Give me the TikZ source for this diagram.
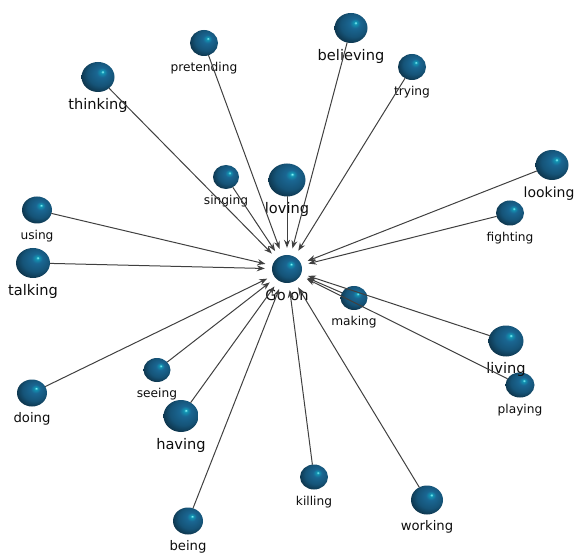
\documentclass[tikz,border=0pt]{standalone}
\usepackage{fontspec}
\setmainfont{DejaVu Sans}
\usepackage{tikz}
\usetikzlibrary{arrows.meta,positioning,shapes.geometric}
\definecolor{sphc}{RGB}{26,102,146}
\pgfdeclareradialshading{sphere}{\pgfpoint{7bp}{9bp}}{%
  color(0bp)=(white!55!cyan); color(2.5bp)=(cyan!30!sphc); color(8bp)=(sphc);
  color(20bp)=(sphc!82!black); color(30bp)=(sphc!50!black); color(50bp)=(black)}
\tikzset{
  every picture/.style={line join=round, line cap=round, >=Stealth},
  sph/.style={ellipse, shading=sphere, inner sep=0pt, draw=none},
  small/.style={sph, minimum width=28pt, minimum height=25pt},
  big/.style={sph, minimum width=33pt, minimum height=30pt},
  lblS/.style={inner sep=0pt, text=black!95, font=\fontsize{12.2}{13}\selectfont},
  lblM/.style={inner sep=0pt, text=black!95, font=\fontsize{13.2}{14}\selectfont},
  lblL/.style={inner sep=0pt, text=black!95, font=\fontsize{14.6}{15}\selectfont},
  edge/.style={-{Stealth[length=8pt,width=6pt]}, draw=black!75, line width=1pt, shorten >=7pt},
}

\begin{document}
\begin{tikzpicture}[x=1pt,y=-1pt]
\useasboundingbox (0,0) rectangle (576,556);
% hub
\node[sph, minimum width=30pt, minimum height=28pt] (goon) at (287,269) {};
\node[lblL, below=6pt of goon] (goon-l) {Go on};
% spheres
\node[sph, minimum width=37pt, minimum height=33pt] (loving) at (287,180) {};
\node[big] (believing) at (351,28) {};
\node[big] (thinking) at (98,77) {};
\node[small, minimum height=26pt] (pretending) at (204,43) {};
\node[small, minimum height=26pt] (trying) at (412,67) {};
\node[small, minimum width=26pt, minimum height=24pt] (singing) at (226,177) {};
\node[big] (looking) at (552,165) {};
\node[small] (fighting) at (510,213) {};
\node[small, minimum width=30pt, minimum height=27pt] (using) at (37,210) {};
\node[sph, minimum width=34pt, minimum height=30pt] (talking) at (33,263) {};
\node[small, minimum width=27pt, minimum height=24pt] (making) at (354,298) {};
\node[sph, minimum width=35pt, minimum height=31pt] (living) at (506,341) {};
\node[small, minimum width=29pt] (playing) at (520,385) {};
\node[small, minimum width=30pt, minimum height=27pt] (doing) at (32,393) {};
\node[small, minimum width=27pt, minimum height=24pt] (seeing) at (157,370) {};
\node[sph, minimum width=35pt, minimum height=32pt] (having) at (181,416) {};
\node[small] (killing) at (314,477) {};
\node[big, minimum width=32pt, minimum height=29pt] (working) at (427,500) {};
\node[small, minimum width=30pt, minimum height=27pt] (being) at (188,521) {};
% labels
\node[lblL, below=6pt of loving] (loving-l) {loving};
\node[lblL, below=6pt of believing] (believing-l) {believing};
\node[lblL, below=6pt of thinking] (thinking-l) {thinking};
\node[lblS, below=6pt of pretending] (pretending-l) {pretending};
\node[lblS, below=6pt of trying] (trying-l) {trying};
\node[lblS, below=6pt of singing] (singing-l) {singing};
\node[lblL, below=6pt of looking, xshift=-3pt, font=\fontsize{14}{15}\selectfont] (looking-l) {looking};
\node[lblS, below=6pt of fighting] (fighting-l) {fighting};
\node[lblS, below=6pt of using] (using-l) {using};
\node[lblL, below=6pt of talking] (talking-l) {talking};
\node[lblS, below=6pt of making] (making-l) {making};
\node[lblL, below=6pt of living] (living-l) {living};
\node[lblS, below=6pt of playing] (playing-l) {playing};
\node[lblM, below=6pt of doing] (doing-l) {doing};
\node[lblS, below=6pt of seeing] (seeing-l) {seeing};
\node[lblL, below=6pt of having] (having-l) {having};
\node[lblS, below=6pt of killing] (killing-l) {killing};
\node[lblM, below=6pt of working] (working-l) {working};
\node[lblM, below=6pt of being] (being-l) {being};
% arrows into the hub
\draw[edge] (loving) -- (goon);
\draw[edge] (believing) -- (goon);
\draw[edge] (thinking) -- (goon);
\draw[edge] (pretending) -- (goon);
\draw[edge] (trying) -- (goon);
\draw[edge] (singing) -- (goon);
\draw[edge] (looking) -- (goon);
\draw[edge] (fighting) -- (goon);
\draw[edge] (using) -- (goon);
\draw[edge] (talking) -- (goon);
\draw[edge] (making) -- (goon);
\draw[edge] (living) -- (goon);
\draw[edge] (playing) -- (goon);
\draw[edge] (doing) -- (goon);
\draw[edge] (seeing) -- (goon);
\draw[edge] (having) -- (goon);
\draw[edge] (killing) -- (goon);
\draw[edge] (working) -- (goon);
\draw[edge] (being) -- (goon);
\end{tikzpicture}
\end{document}
